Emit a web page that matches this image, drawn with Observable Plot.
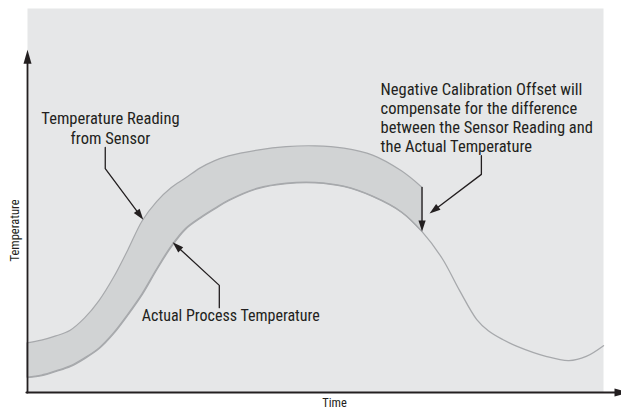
<!DOCTYPE html>
<html><head><meta charset="utf-8">
<script src="https://cdn.jsdelivr.net/npm/d3@7"></script>
<script src="https://cdn.jsdelivr.net/npm/@observablehq/plot@0.6"></script>
<style>
html,body{margin:0;padding:0;background:#fff;overflow:hidden}
</style></head><body><div id="chart"></div>
<script>
// ---- data (time and temperature in arbitrary units, 0–100) ----
const time = [0,2.5,5,7.5,10,12.5,15,17.5,20,22.5,25,27.5,30,32.5,35,40,45,50,55,60,65,68.5];
const sensorReading = [12.8,13.5,14.6,16.1,19.3,23.8,29.8,37.0,44.6,49.6,53.2,55.7,58.3,60.2,61.5,63.0,63.9,64.1,63.5,61.7,57.6,53.4];
const timeAfter = [72,75,78,80,82.5,85,90,94,97,100];
const actualProcess = [3.9,4.4,5.5,6.8,8.9,11.5,15.4,20.3,25.7,32.1,38.0,42.6,45.4,47.8,50.0,53.1,54.4,54.6,53.6,51.0,46.9,41.9,
                       34.9,26.6,19.0,16.1,13.8,12.0,9.4,8.3,9.4,12.2];
const xLabel = "Time";
const yLabel = "Temperature";
const labelSensor = "Temperature Reading\nfrom Sensor";
const labelActual = "Actual Process Temperature";
const labelOffset = "Negative Calibration Offset will\ncompensate for the difference\nbetween the Sensor Reading and\nthe Actual Temperature";

// ---- annotation anchors (data units) ----
const sensorArrow = [[13.5,63.8],[13.5,58.3],[20.1,45.0]];
const actualArrow = [[33.3,22.1],[33.3,27.9],[25.2,39.1]];
const offsetArrow = [[78.8,61.7],[78.8,56.8],[69.8,46.6]];
const offsetDrop  = [[68.5,53.4],[68.5,41.9]];

// ---- styles ----
const FONT = '"Liberation Sans Narrow","Arial Narrow","Roboto Condensed",sans-serif';
const INK = "#231f20", BG = "#e6e7e8", BAND = "#d1d3d4", CURVE = "#a7a9ac";
const W = 621, H = 408, ML = 27, MR = 18, MT = 8, MB = 16;
const xs = d3.scaleLinear([0,100],[ML, W-MR]);
const ys = d3.scaleLinear([0,100],[H-MB, MT]);

const band = time.map((t,i) => ({t, sensor: sensorReading[i], actual: actualProcess[i]}));
const allTime = time.concat(timeAfter);
const actualLine = allTime.map((t,i) => ({t, v: actualProcess[i]}));

function arrowParts(paths, shorten) {
  const lines = [], heads = [];
  paths.forEach((pts, k) => {
    const n = pts.length;
    const X0 = xs(pts[n-2][0]), Y0 = ys(pts[n-2][1]);
    const X1 = xs(pts[n-1][0]), Y1 = ys(pts[n-1][1]);
    const dx = X1 - X0, dy = Y1 - Y0, L = Math.hypot(dx, dy);
    const angle = Math.atan2(dx, -dy) * 180 / Math.PI;
    pts.slice(0, n-1).forEach(p => lines.push({k, t: p[0], v: p[1]}));
    lines.push({k, t: xs.invert(X1 - dx/L*shorten), v: ys.invert(Y1 - dy/L*shorten)});
    heads.push({t: pts[n-1][0], v: pts[n-1][1], angle});
  });
  return {lines, heads};
}
const headSymbol = (len, half) => ({draw(ctx) { ctx.moveTo(0,0); ctx.lineTo(half,len); ctx.lineTo(-half,len); ctx.closePath(); }});

const ann = arrowParts([sensorArrow, actualArrow, offsetArrow, offsetDrop], 6);
const yTop = ys.invert(49.3), xEnd = xs.invert(628);
const axes = arrowParts([[[0,0],[0,yTop]], [[-0.2,0],[xEnd,0]]], 8);

const chart = Plot.plot({
  width: W, height: H, marginLeft: ML, marginRight: MR, marginTop: MT, marginBottom: MB,
  x: {domain: [0,100], range: [ML, W-MR], axis: null},
  y: {domain: [0,100], range: [H-MB, MT], axis: null},
  style: {fontFamily: FONT, background: "#fff", color: INK},
  marks: [
    Plot.frame({fill: BG, stroke: "none"}),
    Plot.areaY(band, {x: "t", y1: "actual", y2: "sensor", fill: BAND, stroke: CURVE, strokeWidth: 1.2, curve: "catmull-rom"}),
    Plot.line(actualLine, {x: "t", y: "v", stroke: CURVE, strokeWidth: 1.3, curve: "catmull-rom"}),
    Plot.line(axes.lines, {x: "t", y: "v", z: "k", stroke: INK, strokeWidth: 1.8}),
    Plot.dot(axes.heads, {x: "t", y: "v", rotate: "angle", symbol: headSymbol(14, 4), fill: INK, stroke: "none"}),
    Plot.line(ann.lines, {x: "t", y: "v", z: "k", stroke: INK, strokeWidth: 1.3}),
    Plot.dot(ann.heads, {x: "t", y: "v", rotate: "angle", symbol: headSymbol(11, 3.6), fill: INK, stroke: "none"}),
    Plot.text([labelSensor], {x: 14.4, y: 64.8, text: d => d, textAnchor: "middle", lineAnchor: "bottom", lineHeight: 1.21, fontSize: 16.5, fill: INK}),
    Plot.text([labelActual], {x: 35.3, y: 18.5, text: d => d, textAnchor: "middle", lineAnchor: "bottom", fontSize: 16, fill: INK}),
    Plot.text([labelOffset], {x: 61.3, y: 62.6, text: d => d, textAnchor: "start", lineAnchor: "bottom", lineHeight: 1.16, fontSize: 16.5, fill: INK}),
    Plot.text([xLabel], {frameAnchor: "bottom", dx: 19, dy: 10, text: d => d, lineAnchor: "middle", fontSize: 12.5, fill: INK}),
    Plot.text([yLabel], {frameAnchor: "left", dx: -13, dy: 61, rotate: -90, text: d => d, fontSize: 12.5, fill: INK})
  ]
});
document.getElementById("chart").appendChild(chart);
</script></body></html>
